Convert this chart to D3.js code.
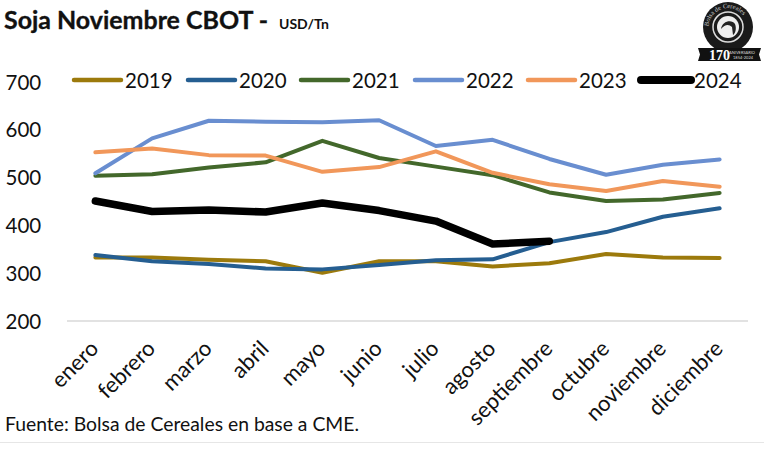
<!DOCTYPE html>
<html><head><meta charset="utf-8">
<script src="https://cdn.jsdelivr.net/npm/d3@7/dist/d3.min.js"></script>
<style>html,body{margin:0;padding:0;background:#fff}svg{display:block}text{font-family:Lato,"Open Sans",sans-serif;fill:#111}</style>
</head><body><svg id="c" width="764" height="457"></svg>
<script>
const months=["enero","febrero","marzo","abril","mayo","junio","julio","agosto","septiembre","octubre","noviembre","diciembre"];
const yTicks=[200,300,400,500,600,700];
const years=["2019","2020","2021","2022","2023","2024"];
const colors=["#9c7a0c","#255e91","#43682b","#698ed0","#f1975a","#000000"];
const widths=[4,4,4,4,4,7.5];
const s2019=[333,333,328,325,301,325,325,314,321,340,333,332];
const s2020=[338,325,319,310,308,317,327,329,365,386,418,436];
const s2021=[504,507,521,532,577,541,523,505,469,451,454,468];
const s2022=[509,582,619,617,616,620,566,579,539,506,527,538];
const s2023=[553,561,547,546,512,522,555,510,486,472,493,481];
const s2024=[451,429,432,428,447,431,409,361,367];
const seriesList=[s2019,s2020,s2021,s2022,s2023,s2024];
const legendX=[74,188,301,415,528,641];

const svg=d3.select("#c");
const x=d3.scaleBand().domain(months).range([67,748]);
const y=d3.scaleLinear().domain([200,700]).range([321,82]);
const cx=m=>x(m)+x.bandwidth()/2;

// title
svg.append("text").attr("x",4).attr("y",29).attr("font-weight",700).attr("font-size",25.5).attr("stroke","#111").attr("stroke-width",0.35).attr("textLength",264).attr("lengthAdjust","spacingAndGlyphs").text("Soja Noviembre CBOT -");
svg.append("text").attr("x",279).attr("y",29).attr("font-weight",700).attr("font-size",14).text("USD/Tn");

// y labels
svg.append("g").selectAll("text").data(yTicks).join("text")
 .attr("x",5.5).attr("y",d=>y(d)+7.5).attr("font-size",20.5).text(d=>d);
// baseline
svg.append("line").attr("x1",67).attr("x2",748).attr("y1",y(200)).attr("y2",y(200)).attr("stroke","#d9d9d9").attr("stroke-width",1.5);
// x labels
svg.append("g").selectAll("text").data(months).join("text")
 .attr("text-anchor","end").attr("font-size",22)
 .attr("transform",d=>`translate(${cx(d)+4.5},${y(200)+29}) rotate(-45)`)
 .text(d=>d);

// lines
const line=d3.line().x((d,i)=>cx(months[i])).y(d=>y(d));
svg.append("g").selectAll("path").data(seriesList).join("path")
 .attr("d",line).attr("fill","none").attr("stroke",(d,i)=>colors[i]).attr("stroke-width",(d,i)=>widths[i])
 .attr("stroke-linecap","round").attr("stroke-linejoin","round");

// legend
const lg=svg.append("g").selectAll("g").data(years).join("g").attr("transform",(d,i)=>`translate(${legendX[i]},80)`);
lg.append("line").attr("x1",0).attr("x2",(d,i)=>i==5?50:47).attr("stroke",(d,i)=>colors[i]).attr("stroke-width",(d,i)=>i==5?8:4.5).attr("stroke-linecap","round");
lg.append("text").attr("x",(d,i)=>i==5?53:51).attr("y",7.5).attr("font-size",20.5).text(d=>d);

// source + rule
svg.append("text").attr("x",5).attr("y",431).attr("font-size",18.5).attr("textLength",354).attr("lengthAdjust","spacingAndGlyphs").text("Fuente: Bolsa de Cereales en base a CME.");
svg.append("line").attr("x1",0).attr("x2",764).attr("y1",442.5).attr("y2",442.5).attr("stroke","#e6e6e6").attr("stroke-width",1);

// seal
const logo=svg.append("g").attr("transform","translate(728,27)");
logo.append("circle").attr("r",25).attr("fill","#1a1a1a");
logo.append("path").attr("id","arc").attr("d","M-19 5 A19.5 19.5 0 1 1 19 5").attr("fill","none");
logo.append("text").attr("font-size",6.5).style("font-family","Liberation Serif").style("fill","#ccc").append("textPath").attr("href","#arc").attr("startOffset","8%").text("Bolsa de Cereales");
logo.append("circle").attr("r",15).attr("fill","none").attr("stroke","#ddd").attr("stroke-width",1.5);
logo.append("circle").attr("r",11).attr("fill","#eee");
logo.append("path").attr("d","M-7 2 C-6 -6 4 -8 7 -3 C9 2 7 7 5 8 L4 0 C1 -3 -3 -3 -7 2Z").attr("fill","#222");
logo.append("path").attr("d","M-30 21 L33 21 L31 27.5 L33 34 L-30 34 L-28 27.5 Z").attr("fill","#111");
logo.append("text").attr("x",-19).attr("y",32.5).attr("font-size",14).attr("font-weight",700).style("font-family","Liberation Serif").style("fill","#fff").text("170");
logo.append("text").attr("x",1).attr("y",27).attr("font-size",4).style("fill","#ddd").text("ANIVERSARIO");
logo.append("text").attr("x",5).attr("y",32).attr("font-size",4).style("fill","#ddd").text("1854-2024");
</script></body></html>
